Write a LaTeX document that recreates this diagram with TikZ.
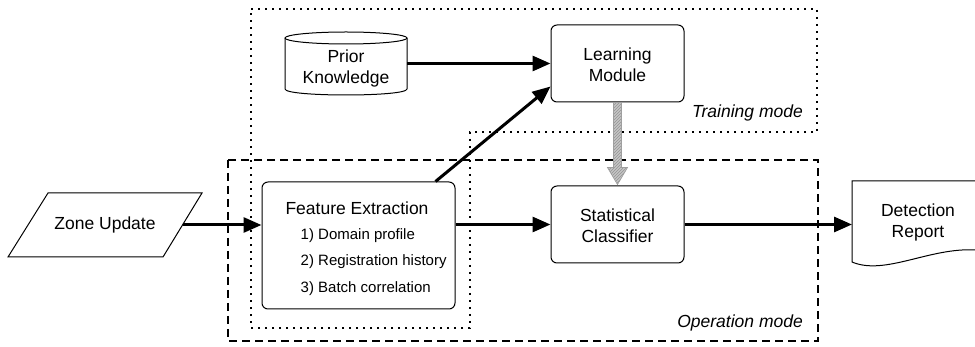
\documentclass[tikz,border=0pt]{standalone}
\usepackage{fontspec}
\setmainfont{Liberation Sans}
\usetikzlibrary{arrows.meta,patterns}
\begin{document}
\begin{tikzpicture}[x=1pt,y=-1pt,
  box/.style={draw, line width=1pt, rounded corners=6pt, fill=white, inner sep=0pt},
  lbl/.style={font=\fontsize{17.5}{21}\selectfont, align=center, inner sep=0pt},
  itm/.style={font=\fontsize{15}{26.5}\selectfont, align=left, inner sep=0pt},
  modelbl/.style={font=\fontsize{17.5}{21}\selectfont\itshape, inner sep=0pt},
  flow/.style={line width=3pt, -{Triangle[length=18pt,width=15pt]}},
  feed/.style={draw=gray!75, line width=0.7pt, preaction={fill=gray!45}, pattern=north east lines, pattern color=gray!85},
  trainregion/.style={line width=1.6pt, dash pattern=on 2pt off 5pt},
  opregion/.style={line width=1.5pt, dash pattern=on 8pt off 5pt},
  shapeline/.style={line width=1pt, fill=white}
]
\useasboundingbox (0,0) rectangle (975,347);

% regions
\draw[trainregion] (251,9) -- (817,9) -- (817,132) -- (470,132) -- (470,328) -- (251,328) -- cycle;
\draw[opregion] (228,160) rectangle (818,341);
\node[modelbl, anchor=base east] (tm) at (803,118) {Training mode};
\node[modelbl, anchor=base east] (om) at (803,328) {Operation mode};

% zone update
\draw[shapeline] (48,193) -- (202,193) -- (163,257) -- (8,257) -- cycle;
\node[lbl] (zu) at (105,225) {Zone Update};
\coordinate (zuout) at (182.5,225);

% prior knowledge cylinder
\draw[shapeline] (285,38) -- (285,89) .. controls (285,97) and (407,97) .. (407,89) -- (407,38);
\draw[shapeline] (346,38) ellipse [x radius=61, y radius=6];
\node[inner sep=0pt, minimum width=122pt, minimum height=63pt] (pk) at (346,63.5) {};
\node[lbl] (pkt) at (346,68) {Prior\\Knowledge};

% boxes
\node[box, minimum width=133pt, minimum height=77pt] (lm) at (617.5,63.5) {};
\node[lbl] (lmt) at (617.5,64.5) {Learning\\Module};
\node[box, minimum width=133pt, minimum height=77pt] (sc) at (617.5,224.5) {};
\node[lbl] (sct) at (617.5,225.5) {Statistical\\Classifier};
\node[box, minimum width=193pt, minimum height=127pt] (fe) at (358.5,245.5) {};
\node[lbl] (fet) at (357,208) {Feature Extraction};
\node[itm, anchor=west] (fei) at (300.5,262) {1) Domain profile\\2) Registration history\\3) Batch correlation};

% detection report
\draw[shapeline] (976,181) -- (852,181) -- (852,262) .. controls (885,276) and (930,247) .. (976,250);
\node[lbl] (dr) at (918,222.5) {Detection\\Report};
\coordinate (drin) at (852,224.5);

% connectors
\draw[flow] (zuout) -- (zuout -| fe.west);
\draw[flow] (pk.east) -- (lm.west);
\draw[flow] ([xshift=-20pt]fe.north east) -- ([yshift=16pt]lm.south west);
\draw[flow] (fe.east |- sc.west) -- (sc.west);
\draw[flow] (sc.east) -- (drin);
\draw[feed] ([xshift=-4pt]lm.south) -- ([xshift=-4pt,yshift=18pt]sc.north)
  -- ([xshift=-10pt,yshift=18pt]sc.north) -- ([yshift=1pt]sc.north)
  -- ([xshift=10pt,yshift=18pt]sc.north) -- ([xshift=4pt,yshift=18pt]sc.north)
  -- ([xshift=4pt]lm.south) -- cycle;
\end{tikzpicture}
\end{document}
